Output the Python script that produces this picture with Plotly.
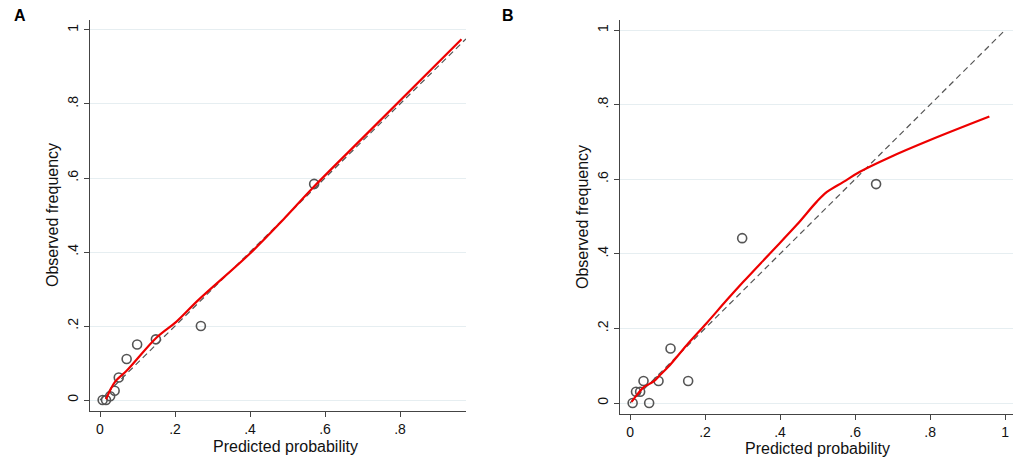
import plotly.graph_objects as go

# --- Panel A: calibration points and smoothed curve ---
a_pts_x = [0.007, 0.016, 0.027, 0.039, 0.050, 0.071, 0.099, 0.149, 0.269, 0.571]
a_pts_y = [0.000, 0.000, 0.010, 0.025, 0.061, 0.111, 0.150, 0.164, 0.200, 0.584]
a_curve_x = [0.016, 0.040, 0.071, 0.151, 0.204, 0.262, 0.400, 0.489, 0.569, 0.720, 0.964]
a_curve_y = [0.002, 0.049, 0.079, 0.169, 0.212, 0.270, 0.396, 0.488, 0.575, 0.728, 0.975]
a_ref = [0, 0.976]

# --- Panel B ---
b_pts_x = [0.007, 0.016, 0.027, 0.036, 0.051, 0.076, 0.108, 0.155, 0.299, 0.656]
b_pts_y = [0.000, 0.030, 0.030, 0.059, 0.000, 0.059, 0.146, 0.059, 0.442, 0.587]
b_curve_x = [0.004, 0.018, 0.036, 0.062, 0.080, 0.102, 0.151, 0.204, 0.258, 0.302,
             0.373, 0.444, 0.498, 0.525, 0.569, 0.613, 0.693, 0.800, 0.958]
b_curve_y = [0.003, 0.021, 0.042, 0.057, 0.075, 0.097, 0.155, 0.214, 0.276, 0.325,
             0.401, 0.477, 0.540, 0.566, 0.593, 0.620, 0.659, 0.705, 0.768]
b_ref = [0, 1]

tick_vals = [0, 0.2, 0.4, 0.6, 0.8, 1]
tick_text = ["0", ".2", ".4", ".6", ".8", "1"]

W, H = 1021, 464
GREY = "#555555"
FONT = "Liberation Sans, Arial, sans-serif"

fig = go.Figure()

for xa, ya, px, py, cx, cy, ref in [
    ("x", "y", a_pts_x, a_pts_y, a_curve_x, a_curve_y, a_ref),
    ("x2", "y2", b_pts_x, b_pts_y, b_curve_x, b_curve_y, b_ref),
]:
    fig.add_trace(go.Scatter(
        x=ref, y=ref, mode="lines", xaxis=xa, yaxis=ya,
        line=dict(color=GREY, width=1.2, dash="6px,4px"), showlegend=False))
    fig.add_trace(go.Scatter(
        x=px, y=py, mode="markers", xaxis=xa, yaxis=ya,
        marker=dict(symbol="circle-open", size=9, color=GREY, line=dict(width=1.6, color=GREY)),
        showlegend=False))
    fig.add_trace(go.Scatter(
        x=cx, y=cy, mode="lines", xaxis=xa, yaxis=ya,
        line_shape="spline", line_smoothing=1.0,
        line=dict(color="#ee0000", width=2.2), showlegend=False))

axis_common = dict(
    showline=True, linecolor="#444444", linewidth=1.3,
    ticks="outside", ticklen=5, tickcolor="#444444", tickwidth=1.2,
    tickvals=tick_vals, ticktext=tick_text, zeroline=False, automargin=False,
    tickfont=dict(family=FONT, size=14, color="#111111"),
)

fig.update_layout(
    width=W, height=H,
    margin=dict(l=0, r=0, t=0, b=0),
    paper_bgcolor="white", plot_bgcolor="white",
    xaxis=dict(axis_common, domain=[90 / W, 466 / W], range=[-0.0267, 0.976],
               showgrid=False, anchor="y"),
    yaxis=dict(axis_common, domain=[(H - 411) / H, (H - 20) / H], range=[-0.0297, 1.027],
               showgrid=True, gridcolor="#e6eef1", gridwidth=1.2, tickangle=-90, anchor="x"),
    xaxis2=dict(axis_common, domain=[620 / W, 1013 / W], range=[-0.0267, 1.021],
                showgrid=False, anchor="y2"),
    yaxis2=dict(axis_common, domain=[(H - 414) / H, (H - 20) / H], range=[-0.0295, 1.027],
                showgrid=True, gridcolor="#e6eef1", gridwidth=1.2, tickangle=-90, anchor="x2"),
)

label_font = dict(family=FONT, size=16, color="#111111")
annotations = [
    dict(text="<b>A</b>", x=20 / W, y=1 - 15 / H, font=dict(family=FONT, size=16, color="#000")),
    dict(text="<b>B</b>", x=508 / W, y=1 - 15 / H, font=dict(family=FONT, size=16, color="#000")),
    dict(text="Predicted probability", x=285 / W, y=1 - 446 / H, font=label_font),
    dict(text="Predicted probability", x=817 / W, y=1 - 448 / H, font=label_font),
    dict(text="Observed frequency", x=52 / W, y=1 - 215 / H, textangle=-90, font=label_font),
    dict(text="Observed frequency", x=582 / W, y=1 - 217 / H, textangle=-90, font=label_font),
]
for a in annotations:
    fig.add_annotation(xref="paper", yref="paper", showarrow=False,
                       xanchor="center", yanchor="middle", **a)

# browser default body margin would shift the figure by 8px
fig.write_html("out.html", config={"displayModeBar": False},
               post_script="document.body.style.margin='0';")
